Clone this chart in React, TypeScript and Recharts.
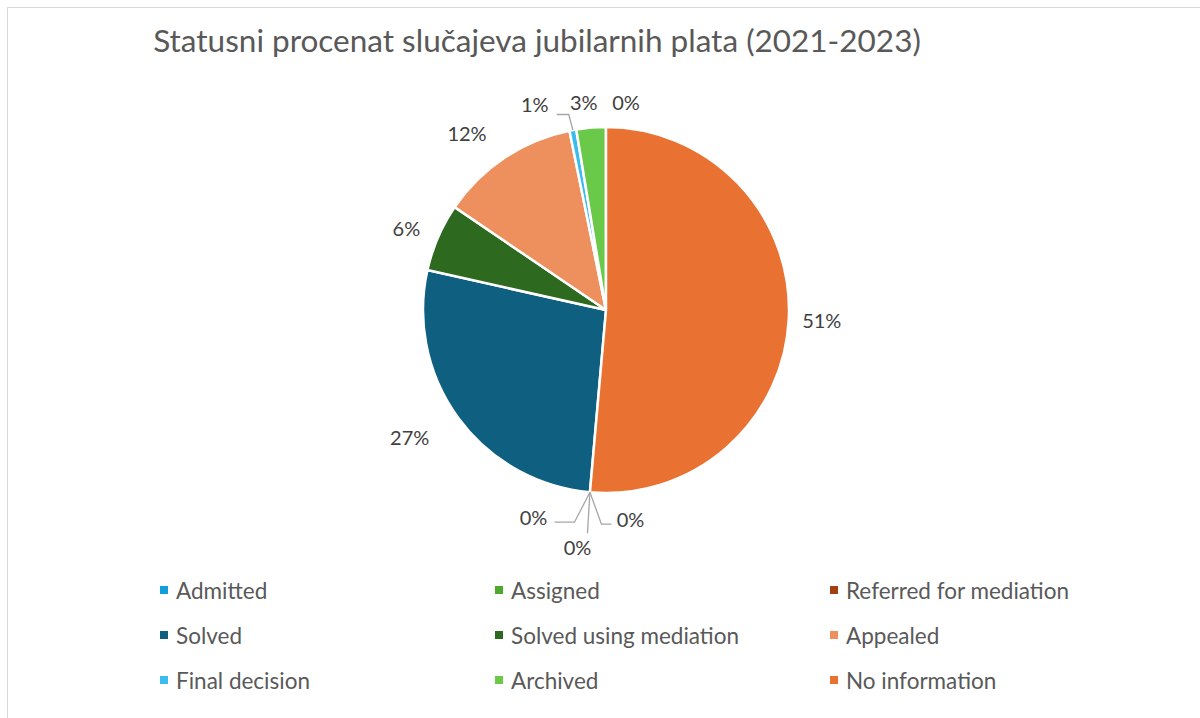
import React from 'react';
import { PieChart, Pie, Cell, Legend } from 'recharts';

// data, in the order the slices run clockwise
const categories = [
  'Admitted',
  'Assigned',
  'Referred for mediation',
  'Solved',
  'Solved using mediation',
  'Appealed',
  'Final decision',
  'Archived',
  '',
  'No information',
];
const shares = [0, 0, 0, 27.1, 6.0, 12.3, 0.6, 2.6, 0, 51.4];
const colors = [
  '#0F9ED5',
  '#4EA72E',
  '#A0410F',
  '#0E5F80',
  '#2D6A1F',
  '#EE8F5E',
  '#3CBBEF',
  '#6BC94A',
  '#E97132',
  '#E97132',
];

const pieData = categories.map((name, i) => ({ name, value: shares[i] }));

// label placement tweaks (px) and leader lines, relative to the label centre
const labelNudge: { dx: number; dy: number; leader?: number[][] }[] = [
  { dx: -54, dy: -3, leader: [[41, 5], [21, 5]] },
  { dx: -10, dy: 27, leader: [[10, -14]] },
  { dx: 43, dy: -1, leader: [[-29, 5], [-19, 5]] },
  { dx: -26, dy: 2 },
  { dx: -6, dy: 2 },
  { dx: -22, dy: -1 },
  { dx: -33, dy: 2, leader: [[34, 10], [22, 10]] },
  { dx: -5, dy: 2 },
  { dx: 20, dy: 3 },
  { dx: 5, dy: 1 },
];

const RADIAN = Math.PI / 180;
const FONT = 'Lato, "Open Sans", sans-serif';

const renderLabel = (props: any) => {
  const { cx, cy, midAngle, outerRadius, index, value } = props;
  const cos = Math.cos(-midAngle * RADIAN);
  const sin = Math.sin(-midAngle * RADIAN);
  const r = outerRadius + 28;
  const n = labelNudge[index] || { dx: 0, dy: 0 };
  const lx = cx + r * cos + n.dx;
  const ly = cy + r * sin + n.dy;
  const ax = cx + outerRadius * cos;
  const ay = cy + outerRadius * sin;
  let line = null;
  if (n.leader) {
    const pts = [[ax, ay], ...n.leader.map(([px, py]) => [lx + px, ly + py])];
    line = (
      <polyline
        points={pts.map((p) => p.join(',')).join(' ')}
        fill="none"
        stroke="#A6A6A6"
        strokeWidth={1.3}
      />
    );
  }
  return (
    <g key={`lbl-${index}`}>
      {line}
      <text
        x={lx}
        y={ly}
        textAnchor="middle"
        dominantBaseline="central"
        fill="#404040"
        fontSize={20}
        fontFamily={FONT}
      >
        {`${Math.round(value)}%`}
      </text>
    </g>
  );
};

const legendCols = [160, 495, 830];

const renderLegend = () => {
  const items = categories
    .map((name, i) => ({ name, color: colors[i] }))
    .filter((d) => d.name !== '');
  return (
    <div style={{ position: 'relative', width: 1200, height: 130 }}>
      {items.map((d, i) => (
        <div
          key={d.name}
          style={{
            position: 'absolute',
            left: legendCols[i % 3],
            top: 20 + Math.floor(i / 3) * 45 - 14,
            height: 28,
            display: 'flex',
            alignItems: 'center',
            fontFamily: FONT,
            fontSize: 22.5,
            color: '#595959',
            whiteSpace: 'nowrap',
          }}
        >
          <span
            style={{
              display: 'inline-block',
              width: 8,
              height: 8,
              background: d.color,
              marginRight: 8,
            }}
          />
          {d.name}
        </div>
      ))}
    </div>
  );
};

export default function App() {
  return (
    <div
      style={{
        position: 'absolute',
        left: 0,
        top: 0,
        width: 1200,
        height: 718,
        overflow: 'hidden',
        background: '#FFFFFF',
      }}
    >
      <div
        style={{
          position: 'absolute',
          left: 7,
          top: 7,
          width: 1300,
          height: 800,
          border: '1px solid #D9D9D9',
        }}
      />
      <div
        style={{
          position: 'absolute',
          left: 0,
          top: 19,
          width: 1074,
          textAlign: 'center',
          fontFamily: FONT,
          fontSize: 31.5,
          color: '#595959',
          lineHeight: '42px',
        }}
      >
        Statusni procenat slučajeva jubilarnih plata (2021-2023)
      </div>
      <div style={{ position: 'absolute', left: 0, top: 0 }}>
        <PieChart width={1200} height={718} margin={{ top: 0, right: 0, bottom: 0, left: 0 }}>
          <Pie
            data={pieData}
            dataKey="value"
            nameKey="name"
            cx={606}
            cy={310}
            outerRadius={183}
            startAngle={-95.04}
            endAngle={-455.04}
            stroke="#FFFFFF"
            strokeWidth={2.5}
            label={renderLabel}
            labelLine={false}
            isAnimationActive={false}
          >
            {pieData.map((d, i) => (
              <Cell key={`c-${i}`} fill={colors[i]} />
            ))}
          </Pie>
          <Legend
            content={renderLegend}
            wrapperStyle={{ left: 0, top: 570, width: 1200 }}
          />
        </PieChart>
      </div>
    </div>
  );
}
